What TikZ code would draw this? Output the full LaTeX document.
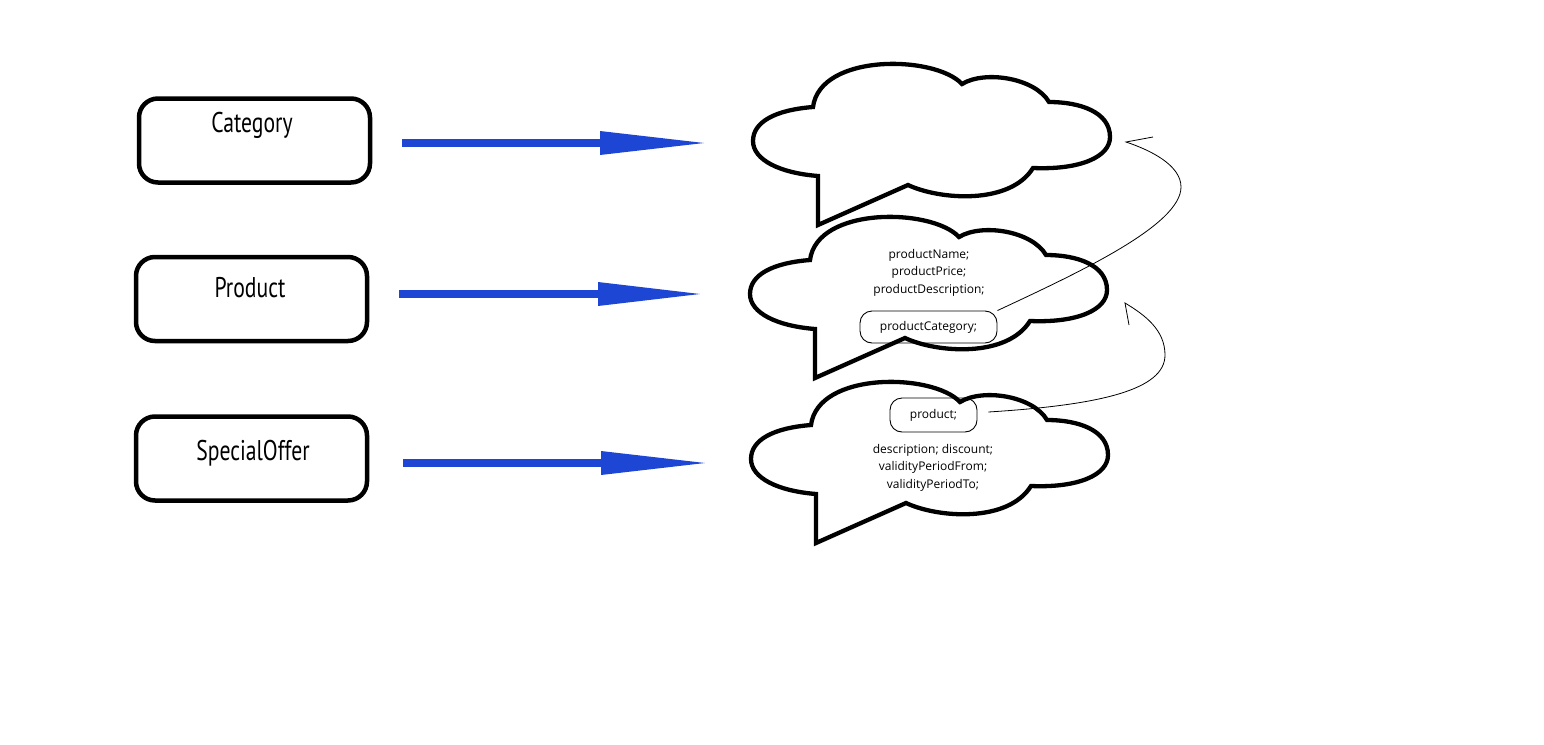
\documentclass[tikz,border=0pt]{standalone}
\usepackage{fontspec}
\setmainfont{Open Sans}
\newfontfamily\labelfont[FakeStretch=0.76]{PT Sans}

\definecolor{arrowblue}{RGB}{30,70,212}

\tikzset{
  entity/.style={draw=black, line width=4.5pt, rounded corners=19pt,
    minimum width=231pt, minimum height=84pt, inner sep=0pt},
  entitylabel/.style={font=\labelfont\fontsize{28.5}{30}\selectfont, inner sep=0pt},
  shaft/.style={draw=arrowblue, line width=8pt},
  head/.style={fill=arrowblue},
  cloudline/.style={draw=black, fill=white, line width=4.3pt, line join=miter},
  cloudtext/.style={font=\fontsize{12}{17.5}\selectfont, align=center, inner sep=0pt},
  fieldbox/.style={draw=black, line width=0.9pt, rounded corners=12pt,
    font=\fontsize{12}{14}\selectfont, inner sep=0pt},
  refline/.style={draw=black, line width=0.8pt},
  pics/speechcloud/.style={code={
    \path[cloudline] (813,107)
      .. controls (775,110) and (753,122) .. (753,141)
      .. controls (753,160) and (780,173) .. (818,176)
      -- (818,225) -- (908,185)
      .. controls (940,200) and (1010,205) .. (1033,168)
      .. controls (1080,170) and (1110,157) .. (1110,137)
      .. controls (1110,112) and (1080,102) .. (1049,102)
      .. controls (1035,78) and (985,70) .. (962,84)
      .. controls (935,55) and (820,53) .. (813,107) -- cycle;
  }}
}

\begin{document}
\begin{tikzpicture}[x=1pt, y=-1pt]
\useasboundingbox[fill=white] (0,0) rectangle (1544,744);

% entity boxes and their labels
\node[entity] (cat)  at (254.5,140.5) {};
\node[entitylabel] (catlbl) at (252,125) {Category};
\node[entity] (prod) at (251.5,299) {};
\node[entitylabel] (prodlbl) at (250,288) {Product};
\node[entity] (spec) at (251.5,458.5) {};
\node[entitylabel] (speclbl) at (253,453) {SpecialOffer};

% speech clouds
\pic (catcloud)  at (0,0)    {speechcloud};
\pic (prodcloud) at (-3,153) {speechcloud};
\pic (speccloud) at (-2,318) {speechcloud};

% mapping arrows: shaft plus a long triangular head
\coordinate (catA)  at (402,143);
\coordinate (catB)  at (704,143);
\coordinate (prodA) at (399,294);
\coordinate (prodB) at (700,294);
\coordinate (specA) at (403,463);
\coordinate (specB) at (705,463);
\draw[shaft] (catA) -- ([xshift=-100pt]catB);
\fill[head] (catB) -- ++(-104,-12) -- ++(0,24) -- cycle;
\draw[shaft] (prodA) -- ([xshift=-98pt]prodB);
\fill[head] (prodB) -- ++(-102,-12) -- ++(0,24) -- cycle;
\draw[shaft] (specA) -- ([xshift=-100pt]specB);
\fill[head] (specB) -- ++(-104,-12) -- ++(0,24) -- cycle;

% attributes of Product
\node[cloudtext] (prodattrs) at (929,272.5) {productName;\\productPrice;\\productDescription;};
\node[fieldbox, minimum width=137pt, minimum height=32pt] (pcat) at (928.5,327) {productCategory;};

% attributes of SpecialOffer
\node[fieldbox, minimum width=87pt, minimum height=34pt] (pref) at (933.5,415) {product;};
\node[cloudtext] (specattrs) at (933,467.5) {description; discount;\\validityPeriodFrom;\\validityPeriodTo;};

% reference links
\coordinate (catTip)  at (1126,142);
\coordinate (catBarb) at (1153,137);
\coordinate (prodTip)  at (1125,303);
\coordinate (prodBarb) at (1129,325);

\draw[refline] (pcat.north east)
  .. controls (1080,272) and (1181,225) .. (1181,187)
  .. controls (1181,165) and (1150,150) .. (catTip) -- (catBarb);
\draw[refline] ([xshift=11pt,yshift=3pt]pref.east)
  .. controls (1100,405) and (1165,390) .. (1165,355)
  .. controls (1165,330) and (1145,315) .. (prodTip) -- (prodBarb);
\end{tikzpicture}
\end{document}
